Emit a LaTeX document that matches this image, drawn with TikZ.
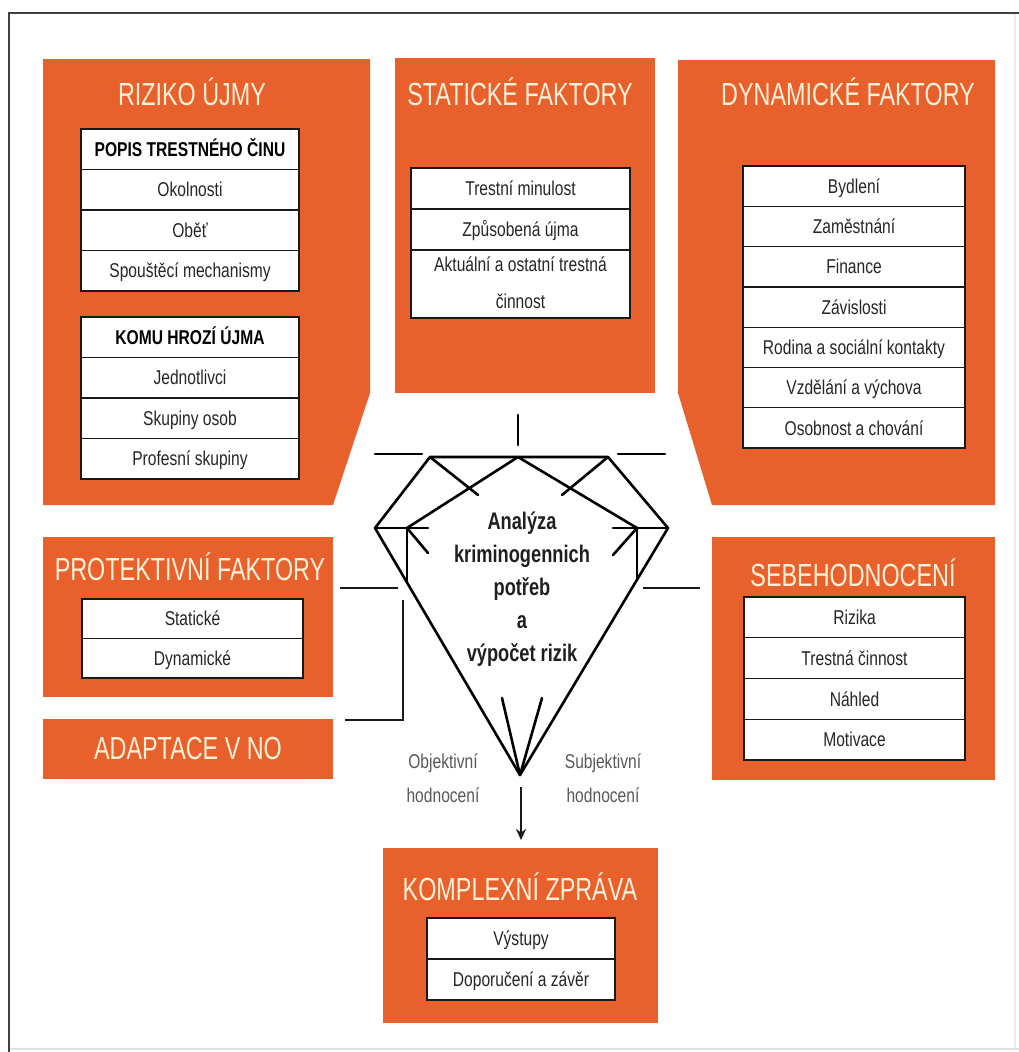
\documentclass[tikz,border=0pt]{standalone}
\usepackage{fontspec}
\setmainfont{Liberation Sans}
\newfontfamily\titlefont[FakeStretch=0.73]{Liberation Sans}
\newfontfamily\bodyfont[FakeStretch=0.78]{Liberation Sans}
\newfontfamily\midfont[FakeStretch=0.76]{Liberation Sans}
\usetikzlibrary{arrows.meta}
\definecolor{orng}{HTML}{E8612C}
\definecolor{cream}{HTML}{FFF0D8}
\begin{document}
\begin{tikzpicture}[x=1pt,y=-1pt,
  box/.style={fill=orng, draw=none},
  ttl/.style={text=cream, font=\titlefont\fontsize{32}{32}\selectfont, inner sep=0pt, text height=22.9pt, text depth=0pt},
  cell/.style={draw=black!90, line width=1.3pt, fill=white, inner sep=0pt, text=black!85,
    font=\bodyfont\fontsize{20}{24}\selectfont, text height=14.3pt, text depth=0pt},
  headcell/.style={cell, text=black, font=\bodyfont\bfseries\fontsize{20}{24}\selectfont},
  celltext/.style={inner sep=0pt, text=black!85, font=\bodyfont\fontsize{20}{24}\selectfont, text height=14.3pt, text depth=0pt},
  midtext/.style={inner sep=0pt, text=black!88, font=\midfont\bfseries\fontsize{24}{24}\selectfont, text height=17.2pt, text depth=0pt},
  lbl/.style={inner sep=0pt, text=black!65, font=\bodyfont\fontsize{20}{24}\selectfont, text height=14.3pt, text depth=0pt},
  gem/.style={draw=black, line width=2.6pt, line join=round, line cap=round},
  conn/.style={draw=black!90, line width=2.3pt},
]
\useasboundingbox (0,0) rectangle (1019,1052);
\fill[white] (0,0) rectangle (1019,1052);
% frame
\draw[black!12, line width=1.5pt] (9,1049) -- (1019,1049);
\draw[black!8, line width=1.5pt] (1015,13) -- (1015,1049);
\draw[black!75, line width=2pt] (8,13) -- (1019,13);
\draw[black!75, line width=2pt] (9,13) -- (9,1052);

% orange boxes
\fill[box] (43,59) -- (370,59) -- (370,393) -- (333,505) -- (43,505) -- cycle;
\fill[box] (395,58) rectangle (655,393);
\fill[box] (678,60) -- (995,60) -- (995,505) -- (712,505) -- (678,393) -- cycle;
\fill[box] (43,537) rectangle (333,697);
\fill[box] (43,719) rectangle (333,779);
\fill[box] (712,537) rectangle (995,780);
\fill[box] (383,848) rectangle (658,1023);

% titles
\node[ttl] (t1) at (192,94.5) {RIZIKO ÚJMY};
\node[ttl] (t2) at (520,94) {STATICKÉ FAKTORY};
\node[ttl] (t3) at (848,94) {DYNAMICKÉ FAKTORY};
\node[ttl] (t4) at (190,569) {PROTEKTIVNÍ FAKTORY};
\node[ttl] (t5) at (188,748) {ADAPTACE V NO};
\node[ttl] (t6) at (853,575) {SEBEHODNOCENÍ};
\node[ttl] (t7) at (520,889) {KOMPLEXNÍ ZPRÁVA};

% RIZIKO tables
\begin{scope}[every node/.append style={minimum width=218pt, minimum height=40.5pt}]
\node[headcell] (r1) at (190,149.25) {POPIS TRESTNÉHO ČINU};
\node[cell] (r2) at (190,189.75) {Okolnosti};
\node[cell] (r3) at (190,230.25) {Oběť};
\node[cell] (r4) at (190,270.75) {Spouštěcí mechanismy};
\node[headcell] (r5) at (190,337.25) {KOMU HROZÍ ÚJMA};
\node[cell] (r6) at (190,377.75) {Jednotlivci};
\node[cell] (r7) at (190,418.25) {Skupiny osob};
\node[cell] (r8) at (190,458.75) {Profesní skupiny};
\end{scope}

% STATICKE table
\node[cell, minimum width=219pt, minimum height=41pt] (s1) at (520.5,188.5) {Trestní minulost};
\node[cell, minimum width=219pt, minimum height=41pt] (s2) at (520.5,229.5) {Způsobená újma};
\node[cell, minimum width=219pt, minimum height=68pt] (s3) at (520.5,284) {};
\node[celltext] (s3a) at (520.5,264) {Aktuální a ostatní trestná};
\node[celltext] (s3b) at (520.5,301) {činnost};

% DYNAMICKE table
\begin{scope}[every node/.append style={minimum width=222pt, minimum height=40.3pt}]
\node[cell] (d1) at (854,186.15) {Bydlení};
\node[cell] (d2) at (854,226.45) {Zaměstnání};
\node[cell] (d3) at (854,266.75) {Finance};
\node[cell] (d4) at (854,307.05) {Závislosti};
\node[cell] (d5) at (854,347.35) {Rodina a sociální kontakty};
\node[cell] (d6) at (854,387.65) {Vzdělání a výchova};
\node[cell] (d7) at (854,427.95) {Osobnost a chování};
\end{scope}

% PROTEKTIVNI table
\node[cell, minimum width=221pt, minimum height=39.5pt] (p1) at (192.5,618.75) {Statické};
\node[cell, minimum width=221pt, minimum height=39.5pt] (p2) at (192.5,658.25) {Dynamické};

% SEBEHODNOCENI table
\begin{scope}[every node/.append style={minimum width=221pt, minimum height=40.75pt}]
\node[cell] (e1) at (854.5,617.4) {Rizika};
\node[cell] (e2) at (854.5,658.1) {Trestná činnost};
\node[cell] (e3) at (854.5,698.9) {Náhled};
\node[cell] (e4) at (854.5,739.6) {Motivace};
\end{scope}

% KOMPLEXNI table
\node[cell, minimum width=188pt, minimum height=41pt] (k1) at (521,938.5) {Výstupy};
\node[cell, minimum width=188pt, minimum height=41pt] (k2) at (521,979.5) {Doporučení a závěr};

% gem
\coordinate (C1) at (430,457);
\coordinate (C2) at (608,457);
\coordinate (T) at (518,457);
\coordinate (L) at (375,528);
\coordinate (R) at (668,528);
\coordinate (Bt) at (520,775);
\coordinate (A) at (407,528);
\coordinate (B) at (637,528);
\coordinate (Ae) at (407,582);
\coordinate (Be) at (637,580);

\draw[gem] (518,415) -- (518,445);
\draw[gem] (375,454) -- (422,454);
\draw[gem] (618,454) -- (665,454);
\draw[gem] (L) -- (C1) -- (C2) -- (R) -- (Bt) -- cycle;
\draw[gem] (L) -- (428,528);
\draw[gem] (R) -- (613,528);
\draw[gem] (T) -- (A) -- (428,553);
\draw[gem] (T) -- (B) -- (613,555);
\draw[gem] (A) -- (Ae);
\draw[gem] (B) -- (Be);
\draw[gem] (C1) -- (478,495);
\draw[gem] (C2) -- (562,495);
\draw[gem] (502,698) -- (Bt) -- (542,698);

% centre text
\node[midtext] (c1) at (522,521) {Analýza};
\node[midtext] (c2) at (522,554) {kriminogennich};
\node[midtext] (c3) at (522,587) {potřeb};
\node[midtext] (c4) at (522,620) {a};
\node[midtext] (c5) at (522,653) {výpočet rizik};

% labels
\node[lbl] (o1) at (443,761.5) {Objektivní};
\node[lbl] (o2) at (443,795.5) {hodnocení};
\node[lbl] (u1) at (603,761.5) {Subjektivní};
\node[lbl] (u2) at (603,795.5) {hodnocení};

% connectors
\coordinate (arS) at (521,787);
\coordinate (arE) at (521,840);
\draw[conn, line width=2.6pt, -{Stealth[length=11pt,width=10pt]}] (arS) -- (arE);
\coordinate (pl1) at (340,588);
\coordinate (pl2) at (398,588);
\draw[conn] (pl1) -- (pl2);
\coordinate (al1) at (345,720);
\coordinate (al2) at (403,720);
\coordinate (al3) at (403,600);
\draw[conn] (al1) -- (al2) -- (al3);
\coordinate (sl1) at (643,588);
\coordinate (sl2) at (700,588);
\draw[conn] (sl1) -- (sl2);
\end{tikzpicture}
\end{document}
